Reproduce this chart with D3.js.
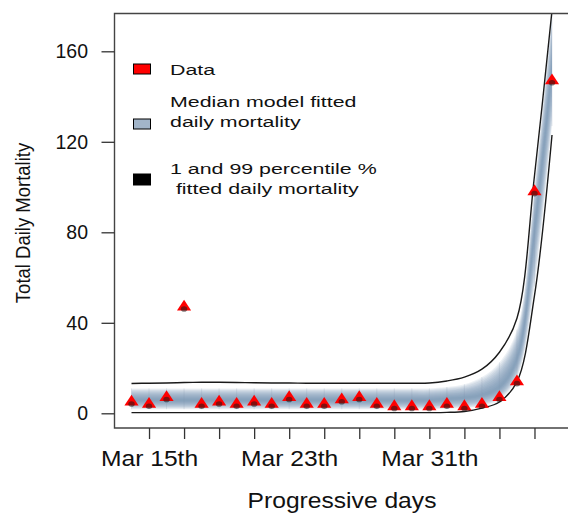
<!DOCTYPE html>
<html>
<head>
<meta charset="utf-8">
<script src="https://cdn.jsdelivr.net/npm/d3@7"></script>
<style>
  body { margin: 0; background: #fff; }
  svg { display: block; font-family: "Liberation Sans", Arial, Helvetica, sans-serif; }
</style>
</head>
<body>
<div id="chart"></div>
<script>
// --- DATOS ---
const firstDayStr = "2020-03-14";
const deaths = [5, 4, 7, 47, 4, 5, 4, 5, 4, 7, 4, 4, 6, 7, 4, 3, 3, 3, 4, 3, 4, 7, 14, 98, 147];
const median = [5.8, 5.8, 5.8, 5.8, 5.8, 5.8, 5.8, 5.8, 5.8, 5.8, 5.8, 5.8, 5.8, 5.8, 5.8, 5.8, 5.8, 5.8,
                6.3, 6.8, 8, 11.5, 24, 80, 152];
const bandLow = [1.8, 1.8, 1.8, 1.8, 1.8, 1.8, 1.8, 1.8, 1.8, 1.8, 1.8, 1.8, 1.8, 1.8, 1.8, 1.8, 1.8, 1.8,
                 2.0, 2.3, 3.2, 5.8, 15.5, 56, 127];
const bandHigh = [11, 11, 11, 11, 11, 11, 11, 11, 11, 11, 11, 11, 11, 11, 11, 11, 11, 11,
                  11.6, 12.8, 16, 22.5, 37, 100, 178];
const upper99 = [13.2, 13.3, 13.4, 13.6, 13.7, 13.7, 13.6, 13.5, 13.4, 13.4, 13.3, 13.3, 13.3, 13.3, 13.3, 13.3, 13.3, 13.4,
                 14.3, 16, 19.5, 27, 42, 105, 178];
const lower1 = [0.3, 0.3, 0.3, 0.3, 0.3, 0.3, 0.3, 0.3, 0.3, 0.3, 0.3, 0.3, 0.3, 0.3, 0.3, 0.3, 0.3, 0.3,
                0.4, 0.8, 2.3, 5, 14, 52, 123];

const yTicks = [0, 40, 80, 120, 160];
const xTickDays = ["2020-03-15", "2020-03-17", "2020-03-19", "2020-03-21", "2020-03-23", "2020-03-25",
                   "2020-03-27", "2020-03-29", "2020-03-31", "2020-04-02", "2020-04-04", "2020-04-06"];
const xTickLabels = ["Mar 15th", "", "", "", "Mar 23th", "", "", "", "Mar 31th", "", "", ""];

const legendItems = [
  { lines: ["Data"], color: "#ff0000" },
  { lines: ["Median model fitted", "daily mortality"], color: "#a2b5c9" },
  { lines: ["1 and 99 percentile %", " fitted daily mortality"], color: "#000000" }
];

// --- CONFIGURACIÓN ---
const W = 568, H = 513;
const plot = { left: 114.5, top: 13.5, right: 590, bottom: 428 };
const font = "\"Liberation Sans\", Arial, Helvetica, sans-serif";
const smooth = d3.curveCatmullRom.alpha(0.5);

const parseDay = d3.utcParse("%Y-%m-%d");
const firstDay = parseDay(firstDayStr);
const days = deaths.map((d, i) => d3.utcDay.offset(firstDay, i));
const idx = d3.range(days.length);

const x = d3.scaleUtc()
  .domain([firstDay, days[days.length - 1]])
  .range([131.5, 552]);
const y = d3.scaleLinear().domain([0, 160]).range([413.3, 51.3]);

const svg = d3.select("#chart").append("svg")
  .attr("width", W).attr("height", H);

svg.append("defs").append("clipPath").attr("id", "clip")
  .append("rect")
  .attr("x", plot.left).attr("y", plot.top)
  .attr("width", plot.right - plot.left).attr("height", plot.bottom - plot.top);

const inner = svg.append("g").attr("clip-path", "url(#clip)");

// --- BANDA (capas anidadas, más oscura en el centro) ---
const nLayers = 12;
for (let k = nLayers; k >= 1; k--) {
  const f = k / nLayers;
  const area = d3.area()
    .x(i => x(days[i]))
    .y0(i => y(median[i] - f * (median[i] - bandLow[i])))
    .y1(i => y(median[i] + f * (bandHigh[i] - median[i])))
    .curve(smooth);
  inner.append("path").datum(idx)
    .attr("d", area)
    .attr("fill", "#6e8cab")
    .attr("fill-opacity", 0.12);
}

// líneas verticales tenues de los polígonos diarios
inner.selectAll(".band-tick").data(idx).enter().append("line")
  .attr("x1", i => x(days[i])).attr("x2", i => x(days[i]))
  .attr("y1", i => y(bandLow[i])).attr("y2", i => y(bandHigh[i]))
  .attr("stroke", "#8197ad").attr("stroke-opacity", 0.3).attr("stroke-width", 0.7);

// --- PERCENTILES 1 y 99 ---
const line = (arr) => d3.line()
  .x(i => x(days[i]))
  .y(i => y(arr[i]))
  .curve(smooth);

[upper99, lower1].forEach(arr => {
  inner.append("path").datum(idx)
    .attr("d", line(arr))
    .attr("fill", "none")
    .attr("stroke", "#1a1a1a")
    .attr("stroke-width", 1.4);
});

// --- DATOS (triángulos) ---
const tri = d3.symbol(d3.symbolTriangle, 68);
const pts = inner.selectAll(".pt").data(idx).enter().append("g")
  .attr("transform", i => `translate(${x(days[i])},${y(deaths[i])})`);
pts.append("path").attr("d", tri).attr("transform", "scale(1.13,1)").attr("fill", "#ff0000");
pts.append("ellipse").attr("cx", 0).attr("cy", 2).attr("rx", 3.2).attr("ry", 2.8)
  .attr("fill", "#1a1a1a").attr("fill-opacity", 0.55);

// --- MARCO ---
svg.append("path")
  .attr("d", `M${plot.right},${plot.top}H${plot.left}V${plot.bottom}H${plot.right}`)
  .attr("fill", "none").attr("stroke", "#444").attr("stroke-width", 1.4);

// --- EJES ---
const gy = svg.append("g").attr("transform", `translate(${plot.left},0)`)
  .call(d3.axisLeft(y).tickValues(yTicks).tickSize(13).tickPadding(13.5));
gy.select(".domain").remove();
gy.selectAll(".tick line").attr("stroke", "#333").attr("stroke-width", 1.3);
gy.selectAll(".tick text").attr("font-family", font).attr("font-size", 19.5).attr("fill", "#111");

const gx = svg.append("g").attr("transform", `translate(0,${plot.bottom})`)
  .call(d3.axisBottom(x).tickValues(xTickDays.map(parseDay))
    .tickFormat((d, i) => xTickLabels[i]).tickSize(11).tickPadding(11));
gx.select(".domain").remove();
gx.selectAll(".tick line").attr("stroke", "#333").attr("stroke-width", 1.3);
gx.selectAll(".tick text").attr("font-family", font).attr("font-size", 22).attr("fill", "#111")
  .attr("transform", "scale(1.12,1)");

// --- TÍTULOS ---
svg.append("text")
  .attr("transform", "translate(30,223) scale(1.1,1) rotate(-90)")
  .attr("text-anchor", "middle").attr("font-size", 18.5).attr("fill", "#111")
  .text("Total Daily Mortality");

svg.append("text")
  .attr("transform", "translate(342,508) scale(1.12,1)")
  .attr("text-anchor", "middle").attr("font-size", 22).attr("fill", "#111")
  .text("Progressive days");

// --- LEYENDA ---
const legendBoxY = [64, 119, 174];
const legendBoxH = [10, 10, 11];
const legendTextY = [[75], [107, 127], [174, 194]];
const legend = svg.append("g");
legendItems.forEach((item, j) => {
  legend.append("rect")
    .attr("x", 133.5).attr("y", legendBoxY[j])
    .attr("width", 17).attr("height", legendBoxH[j])
    .attr("fill", item.color).attr("stroke", "#000").attr("stroke-width", 1);
  item.lines.forEach((t, r) => {
    legend.append("text")
      .attr("transform", `translate(170,${legendTextY[j][r]}) scale(1.38,1)`)
      .attr("xml:space", "preserve")
      .attr("font-size", 15.5).attr("fill", "#111")
      .text(t);
  });
});
</script>
</body>
</html>
